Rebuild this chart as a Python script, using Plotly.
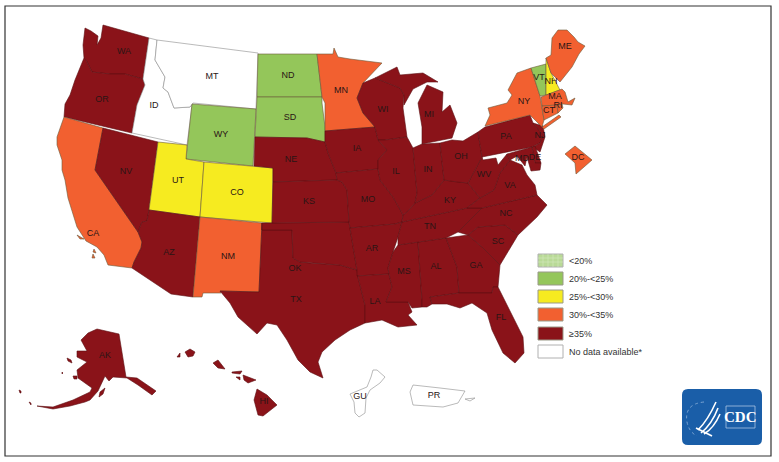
import plotly.graph_objects as go

# legend classes
CLASS_NAMES = ["<20%", "20%-<25%", "25%-<30%", "30%-<35%", "≥35%", "No data available*"]
CLASS_COLORS = ["#b9da96", "#94c65a", "#f6eb20", "#f26030", "#8a1319", "#ffffff"]

# state -> legend class
GREEN = ["ND", "SD", "WY", "VT"]
YELLOW = ["UT", "CO", "NH"]
ORANGE = ["CA", "NM", "MN", "NY", "ME", "MA", "CT", "RI", "DC"]
NODATA = ["ID", "MT", "GU", "PR"]

# outlines, in picture pixels
OUTLINES = {
    "WA": [[(85, 28), (91, 31), (98, 36), (97, 45), (101, 38), (103, 25), (149, 38), (143, 79), (125, 74), (110, 74), (92, 72), (86, 60), (84, 58), (83, 45)]],
    "OR": [[(84, 58), (86, 60), (92, 72), (110, 74), (125, 74), (143, 79), (145, 85), (137, 105), (132, 133), (64, 117), (65, 104), (70, 95), (75, 80), (81, 65)]],
    "CA": [[(64, 117), (103, 128), (95, 170), (138, 232), (142, 242), (141, 248), (134, 262), (132, 268), (108, 265), (104, 255), (97, 247), (86, 241), (77, 227), (75, 220), (70, 205), (68, 198), (65, 180), (62, 170), (62, 160), (57, 145), (57, 137)],
           [(77, 235), (84, 239), (80, 239)], [(94, 249), (96, 253), (93, 252)], [(93, 254), (95, 258), (92, 258)]],
    "NV": [[(103, 128), (158, 142), (149, 210), (147, 221), (142, 222), (138, 232), (95, 170)]],
    "ID": [[(149, 38), (157, 40), (155, 60), (165, 77), (163, 88), (168, 92), (174, 108), (190, 107), (192, 105), (187, 145), (132, 133), (137, 105), (145, 85), (143, 79)]],
    "MT": [[(157, 40), (258, 53), (256, 109), (193, 103), (190, 107), (174, 108), (168, 92), (163, 88), (165, 77), (155, 60)]],
    "WY": [[(192, 104), (256, 109), (253, 166), (186, 159)]],
    "UT": [[(158, 142), (187, 145), (186, 159), (204, 162), (200, 217), (149, 210)]],
    "CO": [[(204, 162), (254, 166), (273, 168), (272, 223), (200, 217)]],
    "AZ": [[(149, 210), (200, 217), (193, 297), (171, 294), (132, 268), (134, 262), (141, 248), (142, 242), (138, 232), (142, 222), (147, 221)]],
    "NM": [[(200, 217), (262, 223), (259, 292), (220, 291), (221, 293), (203, 293), (202, 297), (193, 297)]],
    "TX": [[(262, 223), (262, 230), (292, 230), (293, 258), (300, 262), (310, 263), (340, 265), (357, 270), (358, 277), (365, 305), (365, 323), (350, 330), (335, 340), (322, 352), (318, 362), (323, 378), (310, 372), (298, 360), (287, 340), (277, 325), (267, 323), (257, 334), (238, 317), (230, 303), (220, 291), (259, 292)]],
    "OK": [[(262, 223), (272, 223), (349, 222), (350, 228), (357, 270), (340, 265), (310, 263), (300, 262), (293, 258), (292, 230), (262, 230)]],
    "ND": [[(258, 54), (317, 54), (322, 97), (257, 97)]],
    "SD": [[(257, 97), (322, 97), (322, 103), (325, 127), (325, 142), (307, 138), (255, 137), (256, 107)]],
    "NE": [[(255, 137), (307, 138), (325, 142), (328, 153), (336, 173), (337, 180), (273, 182), (273, 168), (254, 166)]],
    "KS": [[(273, 182), (337, 180), (342, 182), (347, 190), (349, 222), (272, 223)]],
    "MN": [[(317, 54), (333, 54), (334, 48), (338, 57), (350, 59), (382, 63), (363, 83), (357, 98), (363, 113), (375, 127), (325, 131), (325, 103), (322, 97)]],
    "IA": [[(325, 131), (375, 127), (378, 140), (387, 150), (378, 160), (378, 169), (336, 173), (328, 153), (325, 142)]],
    "MO": [[(336, 173), (378, 169), (380, 180), (393, 197), (402, 213), (403, 215), (402, 222), (395, 224), (350, 228), (349, 222), (347, 190), (342, 182), (337, 180)]],
    "AR": [[(350, 228), (395, 224), (402, 222), (398, 237), (393, 252), (388, 268), (389, 274), (357, 276), (357, 270)]],
    "LA": [[(357, 276), (389, 274), (392, 287), (386, 302), (408, 302), (412, 312), (408, 315), (417, 325), (398, 327), (382, 320), (365, 323), (365, 305), (358, 277)]],
    "MS": [[(398, 245), (418, 242), (422, 300), (422, 307), (412, 308), (408, 302), (386, 302), (392, 287), (389, 274), (388, 268), (393, 252)]],
    "AL": [[(418, 242), (446, 238), (457, 267), (459, 293), (430, 297), (432, 304), (427, 307), (422, 307), (422, 300)]],
    "GA": [[(446, 238), (468, 235), (482, 247), (500, 265), (498, 287), (493, 287), (492, 293), (459, 293), (457, 267)]],
    "FL": [[(430, 297), (459, 293), (492, 293), (493, 287), (498, 287), (507, 305), (523, 337), (524, 353), (515, 363), (503, 353), (492, 330), (487, 313), (472, 303), (460, 308), (447, 304), (432, 304)]],
    "SC": [[(468, 235), (478, 227), (505, 225), (518, 235), (500, 265), (482, 247)]],
    "NC": [[(458, 232), (482, 208), (537, 195), (547, 205), (537, 217), (518, 235), (505, 225), (478, 227), (468, 235)]],
    "TN": [[(402, 222), (467, 208), (482, 208), (458, 232), (446, 238), (418, 242), (398, 245), (398, 237)]],
    "KY": [[(444, 180), (457, 182), (468, 183), (480, 198), (467, 208), (402, 222), (403, 215), (407, 212), (415, 203), (432, 195)]],
    "VA": [[(467, 208), (480, 198), (494, 190), (500, 173), (510, 160), (522, 165), (527, 175), (535, 185), (537, 195), (482, 208)]],
    "WV": [[(482, 157), (483, 160), (496, 158), (498, 165), (507, 154), (510, 160), (500, 173), (494, 190), (480, 198), (468, 183)]],
    "WI": [[(363, 83), (375, 78), (400, 88), (404, 95), (403, 108), (407, 137), (385, 140), (378, 140), (375, 127), (363, 113), (357, 98)]],
    "MI": [[(375, 78), (393, 69), (397, 67), (400, 75), (423, 73), (438, 82), (427, 82), (413, 89), (404, 105), (404, 95), (400, 88)],
           [(427, 85), (443, 92), (442, 112), (450, 105), (457, 123), (452, 138), (422, 144), (422, 127), (418, 103)]],
    "IL": [[(385, 140), (407, 137), (413, 148), (417, 193), (415, 203), (407, 212), (403, 215), (402, 213), (393, 197), (380, 180), (378, 169), (378, 160), (387, 150), (378, 140)]],
    "IN": [[(413, 148), (422, 144), (440, 143), (444, 180), (432, 195), (415, 203), (417, 193)]],
    "OH": [[(440, 143), (452, 140), (463, 141), (478, 132), (482, 157), (468, 183), (457, 182), (444, 180)]],
    "PA": [[(478, 132), (485, 127), (530, 115), (533, 123), (543, 135), (540, 143), (532, 147), (482, 157)]],
    "NJ": [[(533, 123), (543, 126), (545, 137), (540, 152), (533, 147), (540, 143), (543, 135)]],
    "DE": [[(532, 147), (535, 146), (541, 163), (535, 163)]],
    "MD": [[(507, 154), (532, 147), (535, 163), (541, 163), (540, 170), (531, 171), (527, 157), (525, 166), (517, 156), (510, 160)]],
    "NY": [[(485, 126), (490, 115), (488, 108), (507, 103), (512, 95), (508, 90), (517, 73), (531, 68), (540, 96), (544, 120), (542, 127), (530, 115)],
           [(542, 127), (559, 115), (561, 117), (544, 129)]],
    "VT": [[(531, 68), (546, 64), (546, 95), (540, 96)]],
    "NH": [[(546, 58), (551, 73), (560, 90), (546, 95)]],
    "ME": [[(551, 55), (552, 38), (558, 30), (567, 30), (574, 37), (578, 42), (585, 46), (579, 54), (572, 67), (560, 82), (551, 73), (546, 58)]],
    "MA": [[(541, 97), (560, 90), (562, 89), (565, 92), (568, 102), (575, 98), (572, 105), (563, 104), (557, 105), (542, 106)]],
    "CT": [[(542, 106), (557, 105), (558, 113), (544, 120)]],
    "RI": [[(557, 105), (562, 104), (563, 108), (558, 113)]],
    "DC": [[(565, 154), (575, 146), (592, 160), (576, 174), (575, 163)]],
    "AK": [[(97, 329), (119, 334), (126, 377), (137, 378), (156, 391), (152, 395), (138, 385), (127, 378), (113, 377), (109, 381), (105, 376), (98, 391), (90, 400), (85, 402), (70, 406), (53, 409), (37, 406), (53, 407), (73, 400), (90, 392), (92, 388), (78, 378), (77, 370), (87, 362), (77, 357), (77, 351), (87, 351), (81, 340), (88, 333)],
           [(67, 358), (71, 360), (72, 363), (68, 361)], [(73, 376), (77, 376), (77, 379), (74, 379)], [(100, 392), (105, 388), (103, 394), (99, 397)],
           [(19, 390), (21, 391), (21, 393), (20, 393)], [(29, 402), (31, 403), (31, 405)], [(62, 372), (63, 373), (62, 374)]],
    "HI": [[(185, 352), (190, 349), (195, 352), (193, 356), (188, 357)], [(177, 357), (180, 353), (180, 357)],
           [(213, 363), (218, 360), (225, 369), (218, 368)], [(232, 372), (242, 371), (240, 374), (232, 373)],
           [(236, 377), (240, 377), (240, 380)], [(243, 375), (256, 380), (248, 383), (244, 380)],
           [(257, 389), (267, 395), (277, 405), (263, 416), (258, 415), (254, 400)]],
    "GU": [[(373, 370), (377, 370), (385, 377), (380, 383), (370, 390), (366, 398), (365, 413), (359, 417), (355, 413), (354, 402), (350, 394), (355, 392), (367, 387), (371, 377)]],
    "PR": [[(410, 392), (413, 385), (440, 388), (465, 391), (458, 403), (443, 407), (413, 405)], [(465, 399), (475, 398), (470, 401)]],
}

LABELS = ["WA", "OR", "ID", "MT", "ND", "SD", "WY", "NV", "UT", "CO", "CA", "AZ", "NM", "NE", "KS", "OK", "TX",
          "MN", "IA", "MO", "AR", "LA", "WI", "IL", "MI", "IN", "OH", "KY", "TN", "MS", "AL", "GA", "SC", "NC",
          "VA", "WV", "PA", "NY", "VT", "NH", "ME", "MA", "CT", "RI", "NJ", "DE", "MD", "DC", "FL", "HI", "AK",
          "GU", "PR"]
LABEL_X = [124, 102, 154, 212, 288, 290, 221, 126, 178, 237, 93, 169, 228, 291, 309, 295, 296,
           341, 357, 368, 372, 375, 383, 396, 429, 428, 461, 450, 430, 404, 436, 476, 498, 506,
           510, 484, 506, 524, 539, 551, 565, 555, 549, 558, 540, 535, 522, 578, 501, 264, 105,
           360, 434]
LABEL_Y = [52, 100, 106, 77, 76, 118, 135, 172, 181, 193, 234, 253, 257, 160, 202, 269, 300,
           91, 149, 200, 249, 302, 110, 172, 115, 170, 157, 201, 227, 272, 267, 266, 242, 214,
           186, 175, 137, 102, 78, 82, 47, 97, 111, 106, 136, 158, 159, 158, 318, 402, 356,
           397, 396]


def state_color(state):
    if state in GREEN:
        return CLASS_COLORS[1]
    if state in YELLOW:
        return CLASS_COLORS[2]
    if state in ORANGE:
        return CLASS_COLORS[3]
    if state in NODATA:
        return CLASS_COLORS[5]
    return CLASS_COLORS[4]


def line_color(state):
    if state in NODATA:
        return "#8c8c8c"
    if state_color(state) == CLASS_COLORS[4]:
        return "#5c0f12"
    return "#6b5a3a"


fig = go.Figure()

# one filled trace per state
for state, parts in OUTLINES.items():
    xs, ys = [], []
    for part in parts:
        xs += [p[0] for p in part] + [part[0][0], None]
        ys += [p[1] for p in part] + [part[0][1], None]
    fig.add_trace(go.Scatter(
        x=xs, y=ys, mode="lines", fill="toself", name=state,
        fillcolor=state_color(state), line=dict(color=line_color(state), width=0.6),
        showlegend=False, hoverinfo="name",
    ))

fig.add_trace(go.Scatter(
    x=LABEL_X, y=LABEL_Y, mode="text", text=LABELS,
    textfont=dict(family="Liberation Sans", size=9, color="#2a1515"),
    showlegend=False, hoverinfo="skip",
))

# legend, drawn by hand to get the wide swatches
shapes = [dict(type="rect", x0=5, y0=6, x1=771, y1=456, line=dict(color="#333333", width=1.2))]
annotations = []
swatch_tops = [254, 272, 290, 308, 327, 345]
for i, name in enumerate(CLASS_NAMES):
    top = swatch_tops[i]
    shapes.append(dict(type="rect", x0=538, x1=563, y0=top, y1=top + 13,
                       fillcolor=CLASS_COLORS[i],
                       line=dict(color="#b0b0b0" if i in (0, 5) else "#999988", width=1)))
    annotations.append(dict(x=566.5, y=top + 6.5, text=name, showarrow=False, xanchor="left",
                            font=dict(family="Liberation Sans", size=9, color="#333333")))

# fine grid on the <20% swatch
for gx in (543, 548, 553, 558):
    shapes.append(dict(type="line", x0=gx, x1=gx, y0=254, y1=267, line=dict(color="#d5e8c0", width=0.6)))
for gy in (258, 262):
    shapes.append(dict(type="line", x0=538, x1=563, y0=gy, y1=gy, line=dict(color="#d5e8c0", width=0.6)))

# CDC logo
shapes.append(dict(type="path", layer="above",
                   path="M 688,389 L 756,389 Q 762,389 762,395 L 762,439 Q 762,445 756,445 "
                        "L 688,445 Q 682,445 682,439 L 682,395 Q 682,389 688,389 Z",
                   fillcolor="#1a5ea8", line=dict(color="#1a5ea8", width=0)))
shapes.append(dict(type="rect", layer="above", x0=726, x1=755, y0=406, y1=428,
                   line=dict(color="#a9c4e2", width=0.8)))
shapes.append(dict(type="path", layer="above", path="M 704,402 Q 684,404 687,422 Q 689,432 697,436",
                   line=dict(color="#8fb3da", width=0.8, dash="dot")))
for wing in ["M 698,430 Q 708,420 716,402", "M 701,433 Q 712,424 718,408",
             "M 704,434 Q 714,428 720,414", "M 696,428 Q 704,432 712,436"]:
    shapes.append(dict(type="path", layer="above", path=wing, line=dict(color="#ffffff", width=1.6)))
annotations.append(dict(x=740.5, y=416.5, text="<b>CDC</b>", showarrow=False,
                        font=dict(family="Liberation Serif", size=15, color="#ffffff")))

fig.update_layout(
    width=779, height=462, margin=dict(l=0, r=0, t=0, b=0),
    paper_bgcolor="white", plot_bgcolor="white",
    shapes=shapes, annotations=annotations,
)
fig.update_xaxes(range=[0, 779], visible=False)
fig.update_yaxes(range=[462, 0], visible=False)

fig.write_html("out.html", post_script="document.body.style.margin='0';", config=dict(displayModeBar=False))
